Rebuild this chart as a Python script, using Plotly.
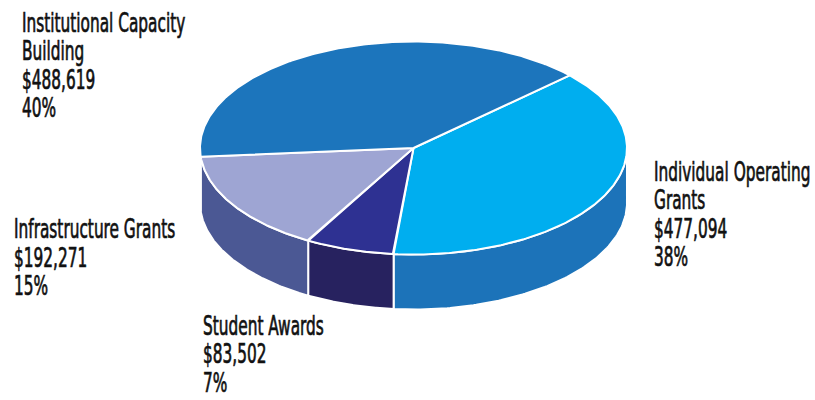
import numpy as np
import plotly.graph_objects as go

# ---------------- data ----------------
categories = ["Individual Operating Grants", "Student Awards",
              "Infrastructure Grants", "Institutional Capacity Building"]
amounts = [477094, 83502, 192271, 488619]
percent_labels = ["38%", "7%", "15%", "40%"]
name_lines = [["Individual Operating", "Grants"], ["Student Awards"],
              ["Infrastructure Grants"], ["Institutional Capacity", "Building"]]

# ---------------- style / layout ----------------
top_colors = ["#00AEEF", "#2E3192", "#9EA5D3", "#1C75BC"]
side_colors = ["#1C73B9", "#27225F", "#4B5894", "#175E9C"]
label_pos = [(652, 180.7), (200.5, 335.0), (12.3, 238.3), (20.0, 31.7)]  # left x, first baseline
line_step = 28.4
font_size = 27
font_family = "DejaVu Sans Condensed, sans-serif"
squeeze = 0.632
text_color = "#111111"

W, H = 815, 400
cx, cy, rx, ry, depth = 413.5, 148.0, 213.5, 106.5, 55.0
start_deg = 43.0

total = float(sum(amounts))
spans = [a / total * 360.0 for a in amounts]


def ell(t_deg, dy=0.0):
    t = np.radians(t_deg)
    return cx + rx * np.cos(t), cy - ry * np.sin(t) + dy


fig = go.Figure()

# slices go clockwise (decreasing angle)
bounds = []
a = start_deg
for s in spans:
    bounds.append((a, a - s))
    a -= s

# side walls (front half: angles in (-180, 0) mod 360)
for (a1, a2), col in zip(bounds, side_colors):
    for k in (-1, 0, 1):
        hi = min(a1 + 360 * k, 0.0)
        lo = max(a2 + 360 * k, -180.0)
        if hi - lo <= 0.01:
            continue
        t = np.linspace(hi, lo, 120)
        xt, yt = ell(t)
        xb, yb = ell(t[::-1], depth)
        xs = np.concatenate([xt, xb, xt[:1]])
        ys = np.concatenate([yt, yb, yt[:1]])
        fig.add_trace(go.Scatter(x=xs, y=ys, mode="lines", fill="toself",
                                 fillcolor=col, line=dict(color="white", width=2),
                                 hoverinfo="skip", showlegend=False))

# top faces
for (a1, a2), col, name in zip(bounds, top_colors, categories):
    t = np.linspace(a1, a2, 240)
    xt, yt = ell(t)
    xs = np.concatenate([[cx], xt, [cx]])
    ys = np.concatenate([[cy], yt, [cy]])
    fig.add_trace(go.Scatter(x=xs, y=ys, mode="lines", fill="toself",
                             fillcolor=col, line=dict(color="white", width=2),
                             name=name, hoverinfo="name", showlegend=False))

# labels
annotations = []
for lines, amt, pct, (lx, by) in zip(name_lines, amounts, percent_labels, label_pos):
    all_lines = list(lines) + [f"${amt:,}", pct]
    for i, txt in enumerate(all_lines):
        baseline = by + i * line_step
        annotations.append(dict(x=lx, y=baseline - 0.35 * font_size, xref="x", yref="y",
                                text=txt, showarrow=False, xanchor="left", yanchor="middle",
                                font=dict(family=font_family, size=font_size, color=text_color)))

fig.update_layout(
    width=W, height=H, margin=dict(l=0, r=0, t=0, b=0),
    paper_bgcolor="white", plot_bgcolor="white",
    xaxis=dict(range=[0, W], visible=False, fixedrange=True),
    yaxis=dict(range=[H, 0], visible=False, fixedrange=True),
    annotations=annotations, showlegend=False,
)

js = """
var f = %s;
document.querySelectorAll('text.annotation-text').forEach(function(t){
  var b = t.getBBox();
  var w = b.width * f;
  t.setAttribute('text-anchor','start');
  t.setAttribute('x', b.x);
  t.setAttribute('textLength', w);
  t.setAttribute('lengthAdjust', 'spacingAndGlyphs');
  t.style.stroke = '%s';
  t.style.strokeWidth = '0.7px';
  var r = t.parentNode.querySelector('rect.bg');
  if (r) { r.setAttribute('width', w + 4); }
  var g = t.parentNode.parentNode;
  if (g) { var r2 = g.querySelector('rect.bg'); if (r2) r2.setAttribute('width', w + 4); }
});
""" % (squeeze, text_color)

fig.write_html("out.html", post_script=js, config={"displayModeBar": False})
